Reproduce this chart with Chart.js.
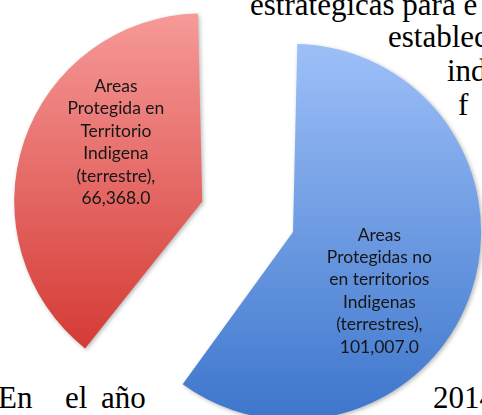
<!DOCTYPE html>
<html>
<head>
<meta charset="utf-8">
<script src="https://cdn.jsdelivr.net/npm/chart.js@4.4.0/dist/chart.umd.min.js"></script>
<style>
html,body{margin:0;padding:0;background:#fff;overflow:hidden;width:482px;height:415px;}
#wrap{position:relative;width:482px;height:415px;overflow:hidden;background:#fff;}
#c{position:absolute;left:0;top:0;}
.t{position:absolute;font-family:"Liberation Serif","Times New Roman",serif;font-size:31px;line-height:1;color:#000;white-space:nowrap;}
</style>
</head>
<body>
<div id="wrap">
  <div class="t" style="left:250px;top:-11px;">estratégicas para e</div>
  <div class="t" style="left:388px;top:21px;">establec</div>
  <div class="t" style="left:447px;top:55px;">ind</div>
  <div class="t" style="left:458px;top:89px;">f</div>
  <div class="t" style="left:-2px;top:382px;">En</div>
  <div class="t" style="left:65px;top:382px;">el</div>
  <div class="t" style="left:101px;top:382px;">año</div>
  <div class="t" style="left:433px;top:382px;">2014</div>
  <canvas id="c" width="482" height="415"></canvas>
</div>
<script>
// ---- data ----
const categories = [
  ["Areas", "Protegidas no", "en territorios", "Indigenas", "(terrestres),"],
  ["Areas", "Protegida en", "Territorio", "Indigena", "(terrestre),"]
];
const values = [101007.0, 66368.0];

// ---- styles ----
const explode = [108.6, 274.6];
const pieRadius = 160.9;
const gradTop = ['#9bbef7', '#f8a09f'];
const gradBottom = ['#3b74cb', '#d3352f'];

function fmt(v) {
  return v.toLocaleString('en-US', {minimumFractionDigits: 1, maximumFractionDigits: 1});
}

function sliceFill(c) {
  const i = c.dataIndex;
  const chart = c.chart;
  const ca = chart.chartArea;
  if (!ca || i === undefined) return gradTop[i] || '#888';
  const total = values.reduce((a, b) => a + b, 0);
  let start = -Math.PI / 2;
  for (let k = 0; k < i; k++) start += 2 * Math.PI * values[k] / total;
  const sweep = 2 * Math.PI * values[i] / total;
  const mid = start + sweep / 2;
  const off = explode[i] / 4;
  const fix = 1 - Math.sin(Math.min(Math.PI, sweep));
  const rDraw = pieRadius + off * fix;
  const cy = (ca.top + ca.bottom) / 2 + Math.sin(mid) * off;
  const g = chart.ctx.createLinearGradient(0, cy - rDraw, 0, cy + rDraw);
  g.addColorStop(0, gradTop[i]);
  g.addColorStop(1, gradBottom[i]);
  return g;
}

const shadowPlugin = {
  id: 'shadow',
  beforeDatasetsDraw(chart) {
    const ctx = chart.ctx;
    ctx.save();
    ctx.shadowColor = 'rgba(0,0,0,0.28)';
    ctx.shadowBlur = 4;
    ctx.shadowOffsetX = 1.5;
    ctx.shadowOffsetY = 1.5;
  },
  afterDatasetsDraw(chart) {
    chart.ctx.restore();
  }
};

const labelPlugin = {
  id: 'sliceLabels',
  afterDraw(chart) {
    const ctx = chart.ctx;
    const meta = chart.getDatasetMeta(0);
    ctx.save();
    ctx.font = '17.5px Lato, "Open Sans", sans-serif';
    ctx.fillStyle = '#161616';
    ctx.textAlign = 'center';
    ctx.textBaseline = 'middle';
    const lh = 22.4;
    meta.data.forEach((arc, i) => {
      const p = arc.getProps(['x', 'y', 'startAngle', 'endAngle', 'outerRadius'], true);
      const sweep = p.endAngle - p.startAngle;
      const mid = (p.startAngle + p.endAngle) / 2;
      const off = (arc.options.offset || 0) / 4;
      const fix = 1 - Math.sin(Math.min(Math.PI, sweep));
      const rDraw = p.outerRadius + off * fix;
      const cx = p.x + Math.cos(mid) * off;
      const cy = p.y + Math.sin(mid) * off;
      const a = mid + 0.274;
      const lx = cx + Math.cos(a) * rDraw * 0.556;
      const ly = cy + Math.sin(a) * rDraw * 0.556;
      const lines = categories[i].concat([fmt(values[i])]);
      const y0 = ly - (lines.length - 1) * lh / 2;
      lines.forEach((t, k) => ctx.fillText(t, lx, y0 + k * lh));
    });
    ctx.restore();
  }
};

new Chart(document.getElementById('c'), {
  type: 'pie',
  data: {
    labels: categories,
    datasets: [{
      data: values,
      backgroundColor: sliceFill,
      borderWidth: 0,
      offset: explode,
      hoverOffset: 0,
      radius: pieRadius,
      clip: false
    }]
  },
  options: {
    responsive: false,
    animation: false,
    events: [],
    layout: {padding: {left: 52.56, right: 0, top: 31.64, bottom: 0}},
    plugins: {
      legend: {display: false},
      tooltip: {enabled: false}
    }
  },
  plugins: [shadowPlugin, labelPlugin]
});
</script>
</body>
</html>
